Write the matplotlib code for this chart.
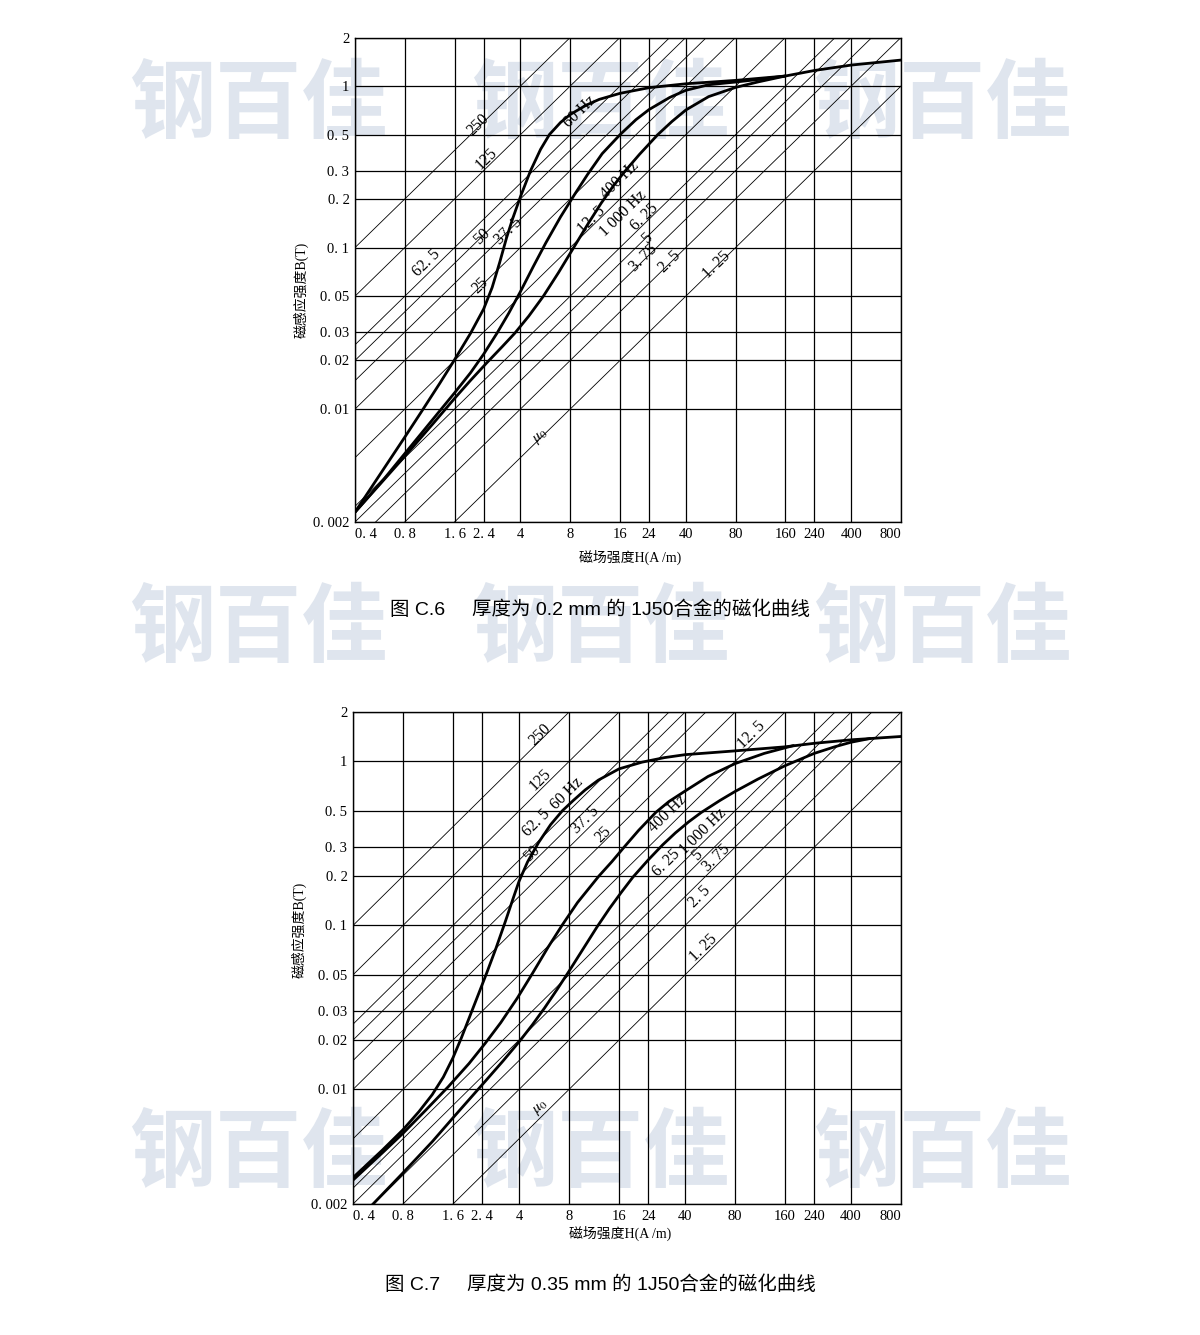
import numpy as np
import matplotlib
matplotlib.use("Agg")
import matplotlib.pyplot as plt
from matplotlib.ticker import NullLocator, FixedLocator, FixedFormatter

plt.rcParams['font.family'] = ['Liberation Serif', 'Noto Sans CJK SC']
plt.rcParams['mathtext.fontset'] = 'stix'

# ----------------------------
# axis values
# ----------------------------
h_ticks = [0.4, 0.8, 1.6, 2.4, 4, 8, 16, 24, 40, 80, 160, 240, 400, 800]
h_tick_labels = ['0. 4', '0. 8', '1. 6', '2. 4', '4', '8', '16', '24', '40',
                 '80', '160', '240', '400', '800']
b_ticks = [0.002, 0.01, 0.02, 0.03, 0.05, 0.1, 0.2, 0.3, 0.5, 1, 2]
b_tick_labels = ['0. 002', '0. 01', '0. 02', '0. 03', '0. 05', '0. 1', '0. 2',
                 '0. 3', '0. 5', '1', '2']

# constant permeability lines, mH/m  (B = mu * H)
mu_lines = [250, 125, 62.5, 50, 37.5, 25, 12.5, 6.25, 5, 3.75, 2.5, 1.25]

# ----------------------------
# Fig C.6  (0.2 mm)
# ----------------------------
c6_h_60 = [0.4, 0.6, 0.8, 1.0, 1.3, 1.6, 2.0, 2.4, 2.7, 3.0, 3.3, 3.6, 4.0, 4.6,
           5.3, 6.0, 7.0, 8.0, 10, 12, 16, 24, 40, 80, 160, 240, 400, 800]
c6_b_60 = [0.0023, 0.0043, 0.0067, 0.0095, 0.0144, 0.0202, 0.0295, 0.0417, 0.0566,
           0.081, 0.115, 0.152, 0.206, 0.298, 0.406, 0.502, 0.596, 0.667, 0.762,
           0.828, 0.902, 0.978, 1.034, 1.085, 1.155, 1.25, 1.35, 1.45]

c6_h_400 = [0.4, 0.6, 0.8, 1.2, 1.6, 2.0, 2.4, 2.9, 3.4, 4.0, 4.8, 5.7, 7.0, 8.5,
            10.2, 12.5, 16, 20, 24, 32, 40, 55, 80, 110, 160]
c6_b_400 = [0.0023, 0.0037, 0.0053, 0.0088, 0.0126, 0.0168, 0.0219, 0.0297, 0.0392,
            0.0533, 0.0767, 0.107, 0.155, 0.213, 0.284, 0.382, 0.50, 0.62, 0.716,
            0.851, 0.942, 1.02, 1.06, 1.10, 1.155]

c6_h_1000 = [0.4, 0.6, 0.8, 1.2, 1.6, 2.0, 2.5, 3.1, 3.7, 4.5, 5.5, 6.8, 8.3, 10.2,
             12.3, 14.5, 17, 21, 27, 33, 40, 55, 80, 110, 160]
c6_b_1000 = [0.0023, 0.00366, 0.0051, 0.00824, 0.01164, 0.01507, 0.0193, 0.0243,
             0.0295, 0.0377, 0.0499, 0.070, 0.098, 0.139, 0.188, 0.239, 0.294,
             0.378, 0.499, 0.604, 0.711, 0.861, 0.982, 1.063, 1.155]

c6_labels = ['250', '125', '62. 5', '50', '37. 5', '25', '12. 5', '6. 25', '5',
             '3. 75', '2. 5', '1. 25', r'$\mu_0$', '60 Hz', '400 Hz', '1 000 Hz']

# ----------------------------
# Fig C.7  (0.35 mm)
# ----------------------------
c7_h_60 = [0.4, 0.6, 0.8, 1.0, 1.2, 1.4, 1.6, 1.8, 2.0, 2.25, 2.55, 2.9, 3.3, 3.7,
           4.0, 4.5, 5.25, 6.2, 7.3, 8.5, 10, 12, 16, 22, 30, 40, 80, 160, 240,
           400, 800]
c7_b_60 = [0.0029, 0.00426, 0.00568, 0.00734, 0.0093, 0.0119, 0.0156, 0.0207,
           0.0272, 0.0369, 0.0511, 0.0723, 0.105, 0.148, 0.186, 0.244, 0.321,
           0.412, 0.501, 0.579, 0.67, 0.769, 0.901, 0.99, 1.055, 1.10, 1.16,
           1.228, 1.29, 1.355, 1.42]

c7_h_400 = [0.4, 0.6, 0.8, 1.1, 1.5, 2.0, 2.5, 3.1, 3.9, 4.8, 6.0, 7.3, 9.0, 12.1,
            14.5, 17.4, 21, 26.7, 32, 40, 55, 80, 120, 180]
c7_b_400 = [0.0028, 0.0041, 0.0054, 0.0075, 0.0104, 0.0144, 0.0191, 0.0255, 0.036,
            0.0507, 0.074, 0.101, 0.138, 0.20, 0.245, 0.305, 0.38, 0.49, 0.57,
            0.66, 0.81, 0.97, 1.12, 1.25]

c7_h_1000 = [0.5, 0.8, 1.2, 1.6, 2.0, 2.5, 3.2, 4.0, 4.8, 5.7, 6.8, 8.0, 9.8, 11.8,
             14, 16.5, 19.4, 24, 29.3, 35, 42, 50, 65, 80, 110, 160, 240, 320,
             400, 520]
c7_b_1000 = [0.00189, 0.0031, 0.0048, 0.00671, 0.00867, 0.0112, 0.0149, 0.0195,
             0.0247, 0.0314, 0.0409, 0.0526, 0.0728, 0.098, 0.1266, 0.159, 0.197,
             0.251, 0.31, 0.367, 0.428, 0.488, 0.579, 0.656, 0.781, 0.942, 1.12,
             1.23, 1.31, 1.38]

c7_labels = ['250', '125', '62. 5', '60 Hz', '50', '37. 5', '25', '400 Hz',
             '1 000 Hz', '6. 25', '5', '3. 75', '2. 5', '1. 25', '12. 5', r'$\mu_0$']

# label anchors (H, B)
c6_label_pos = [(2.23, 0.574), (2.50, 0.357), (1.085, 0.080), (2.33, 0.117),
                (3.38, 0.126), (2.28, 0.0586), (10.8, 0.148), (22.6, 0.155),
                (23.2, 0.114), (22.1, 0.0859), (32.1, 0.0818), (61.5, 0.078),
                (5.25, 0.0069), (9.16, 0.695), (16.0, 0.262), (16.7, 0.163)]
c7_label_pos = [(5.35, 1.45), (5.35, 0.77), (5.11, 0.419), (7.75, 0.639),
                (4.77, 0.275), (10.0, 0.439), (12.9, 0.356), (31.7, 0.482),
                (51.5, 0.373), (31.0, 0.239), (47.0, 0.269), (62.1, 0.257),
                (49.2, 0.150), (51.5, 0.0724), (101, 1.45), (5.35, 0.0078)]

fig = plt.figure(figsize=(12, 13.35), dpi=100)
fig.patch.set_facecolor('white')

# watermark
for wy in [0.921, 0.528, 0.135]:
    for wx in [0.215, 0.50, 0.785]:
        fig.text(wx, wy, '钢百佳', fontsize=62, fontweight='bold', color='#dfe5ee',
                 family=['Noto Sans CJK SC'], ha='center', va='center', zorder=-10)


def draw_panel(rect, curves, labels, label_pos, ylab_y, xlab_x, xlab_y):
    ax = fig.add_axes(rect)
    ax.set_facecolor('none')
    ax.set_xscale('log')
    ax.set_yscale('log')
    ax.set_xlim(0.4, 800)
    ax.set_ylim(0.002, 2)

    h_line = np.array([0.1, 5000.0])
    for mu in mu_lines:
        ax.plot(h_line, mu * 1e-3 * h_line, color='black', lw=0.6)

    for h, b in curves:
        ax.plot(h, b, color='black', lw=2.0, solid_joinstyle='round',
                solid_capstyle='round')

    ax.xaxis.set_major_locator(FixedLocator(h_ticks))
    ax.xaxis.set_major_formatter(FixedFormatter(h_tick_labels))
    ax.yaxis.set_major_locator(FixedLocator(b_ticks))
    ax.yaxis.set_major_formatter(FixedFormatter(b_tick_labels))
    ax.xaxis.set_minor_locator(NullLocator())
    ax.yaxis.set_minor_locator(NullLocator())
    ax.grid(True, color='black', lw=0.9)
    ax.tick_params(length=0, labelsize=10.5, pad=4)
    xl = ax.get_xticklabels()
    xl[0].set_horizontalalignment('left')
    xl[-1].set_horizontalalignment('right')
    for s in ax.spines.values():
        s.set_linewidth(1.0)

    ax.set_ylabel('磁感应强度B(T)', fontsize=10)
    ax.yaxis.set_label_coords(-0.084, ylab_y)
    ax.set_xlabel('磁场强度H(A /m)', fontsize=10)
    ax.xaxis.set_label_coords(xlab_x, xlab_y)

    p = ax.transData.transform([(1, 0.01), (10, 0.1)])
    ang = np.degrees(np.arctan2(p[1, 1] - p[0, 1], p[1, 0] - p[0, 0]))
    for s, (h, b) in zip(labels, label_pos):
        ax.text(h, b, s, rotation=ang, rotation_mode='anchor', ha='center',
                va='center', fontsize=11.5)
    return ax


draw_panel([0.2958, 0.609, 0.455, 0.3629],
           [(c6_h_60, c6_b_60), (c6_h_400, c6_b_400), (c6_h_1000, c6_b_1000)],
           c6_labels, c6_label_pos, 0.479, 0.504, -0.058)
draw_panel([0.2942, 0.0981, 0.4567, 0.3685],
           [(c7_h_60, c7_b_60), (c7_h_400, c7_b_400), (c7_h_1000, c7_b_1000)],
           c7_labels, c7_label_pos, 0.557, 0.487, -0.045)

cap_font = ['Liberation Sans', 'Noto Sans CJK SC']
fig.text(0.5, 1 - 610 / 1335, '图 C.6     厚度为 0.2 mm 的 1J50合金的磁化曲线',
         fontsize=14, family=cap_font, ha='center', va='center')
fig.text(0.5, 1 - 1285 / 1335, '图 C.7     厚度为 0.35 mm 的 1J50合金的磁化曲线',
         fontsize=14, family=cap_font, ha='center', va='center')

fig.savefig('out.png', dpi=100, facecolor='white')
